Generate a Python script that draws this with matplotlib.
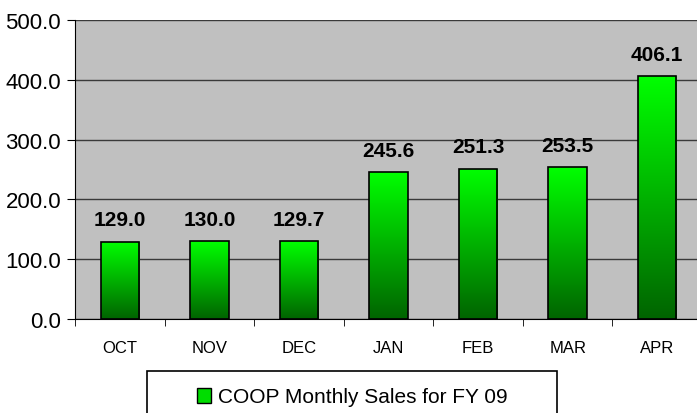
import numpy as np
import matplotlib
matplotlib.use("Agg")
import matplotlib.pyplot as plt
from matplotlib.colors import LinearSegmentedColormap
from matplotlib.patches import Rectangle

months = ["OCT", "NOV", "DEC", "JAN", "FEB", "MAR", "APR"]
sales = [129.0, 130.0, 129.7, 245.6, 251.3, 253.5, 406.1]
yticks = [0, 100, 200, 300, 400, 500]
series_name = "COOP Monthly Sales for FY 09"

plt.rcParams['font.family'] = ['Liberation Sans Narrow', 'Liberation Sans', 'DejaVu Sans']

fig = plt.figure(figsize=(6.97, 4.14), dpi=100)
ax = fig.add_axes([75/697, 1-320/414, 627/697, 299/414])
ax.set_facecolor('#c0c0c0')

x = np.arange(len(months))
bars = ax.bar(x, sales, width=0.43, color='none', edgecolor='black', linewidth=1.2, zorder=3)

# vertical gradient inside each bar
grad = LinearSegmentedColormap.from_list('g', ['#006400', '#00ff00'])
g = np.linspace(0, 1, 256).reshape(-1, 1)
for b in bars:
    x0, w, h = b.get_x(), b.get_width(), b.get_height()
    im = ax.imshow(g, cmap=grad, aspect='auto', origin='lower',
                   extent=[x0, x0 + w, 0, h], zorder=2)
    im.set_clip_path(b)

for xi, v in zip(x, sales):
    ax.annotate(f"{v:.1f}", (xi, v), xytext=(0, 9), textcoords='offset points',
                ha='center', va='bottom', fontsize=15, fontweight='bold')

ax.set_xlim(-0.5, len(months) - 0.5)
ax.set_ylim(0, 500)
ax.set_yticks(yticks)
ax.set_yticklabels([f"{t:.1f}" for t in yticks], fontsize=16)
ax.yaxis.grid(True, color='#3a3a3a', linewidth=1)
ax.set_axisbelow(True)

ax.set_xticks(x)
ax.set_xticklabels(months, fontsize=12)
ax.set_xticks(np.arange(len(months) + 1) - 0.5, minor=True)
ax.tick_params(axis='x', which='major', length=0, pad=15)
ax.tick_params(axis='x', which='minor', length=5, direction='out', color='black')
ax.tick_params(axis='y', length=6, direction='out', pad=4)

for s in ['top', 'right']:
    ax.spines[s].set_visible(False)
ax.spines['left'].set_color('black')
ax.spines['bottom'].set_color('black')

# legend box (runs off the bottom of the image)
fig.patches.append(Rectangle((147/697, -0.05), 410/697, 0.05 + (414-372)/414,
                             transform=fig.transFigure, facecolor='white',
                             edgecolor='black', linewidth=1.2, zorder=0))
handle = Rectangle((0, 0), 1, 1, facecolor='#00dd00', edgecolor='black')
fig.legend([handle], [series_name], loc='center', bbox_to_anchor=(352/697, 1-398/414),
           frameon=False, fontsize=15, handlelength=0.7, handleheight=0.7,
           handletextpad=0.3)

fig.savefig('out.png', dpi=100)
